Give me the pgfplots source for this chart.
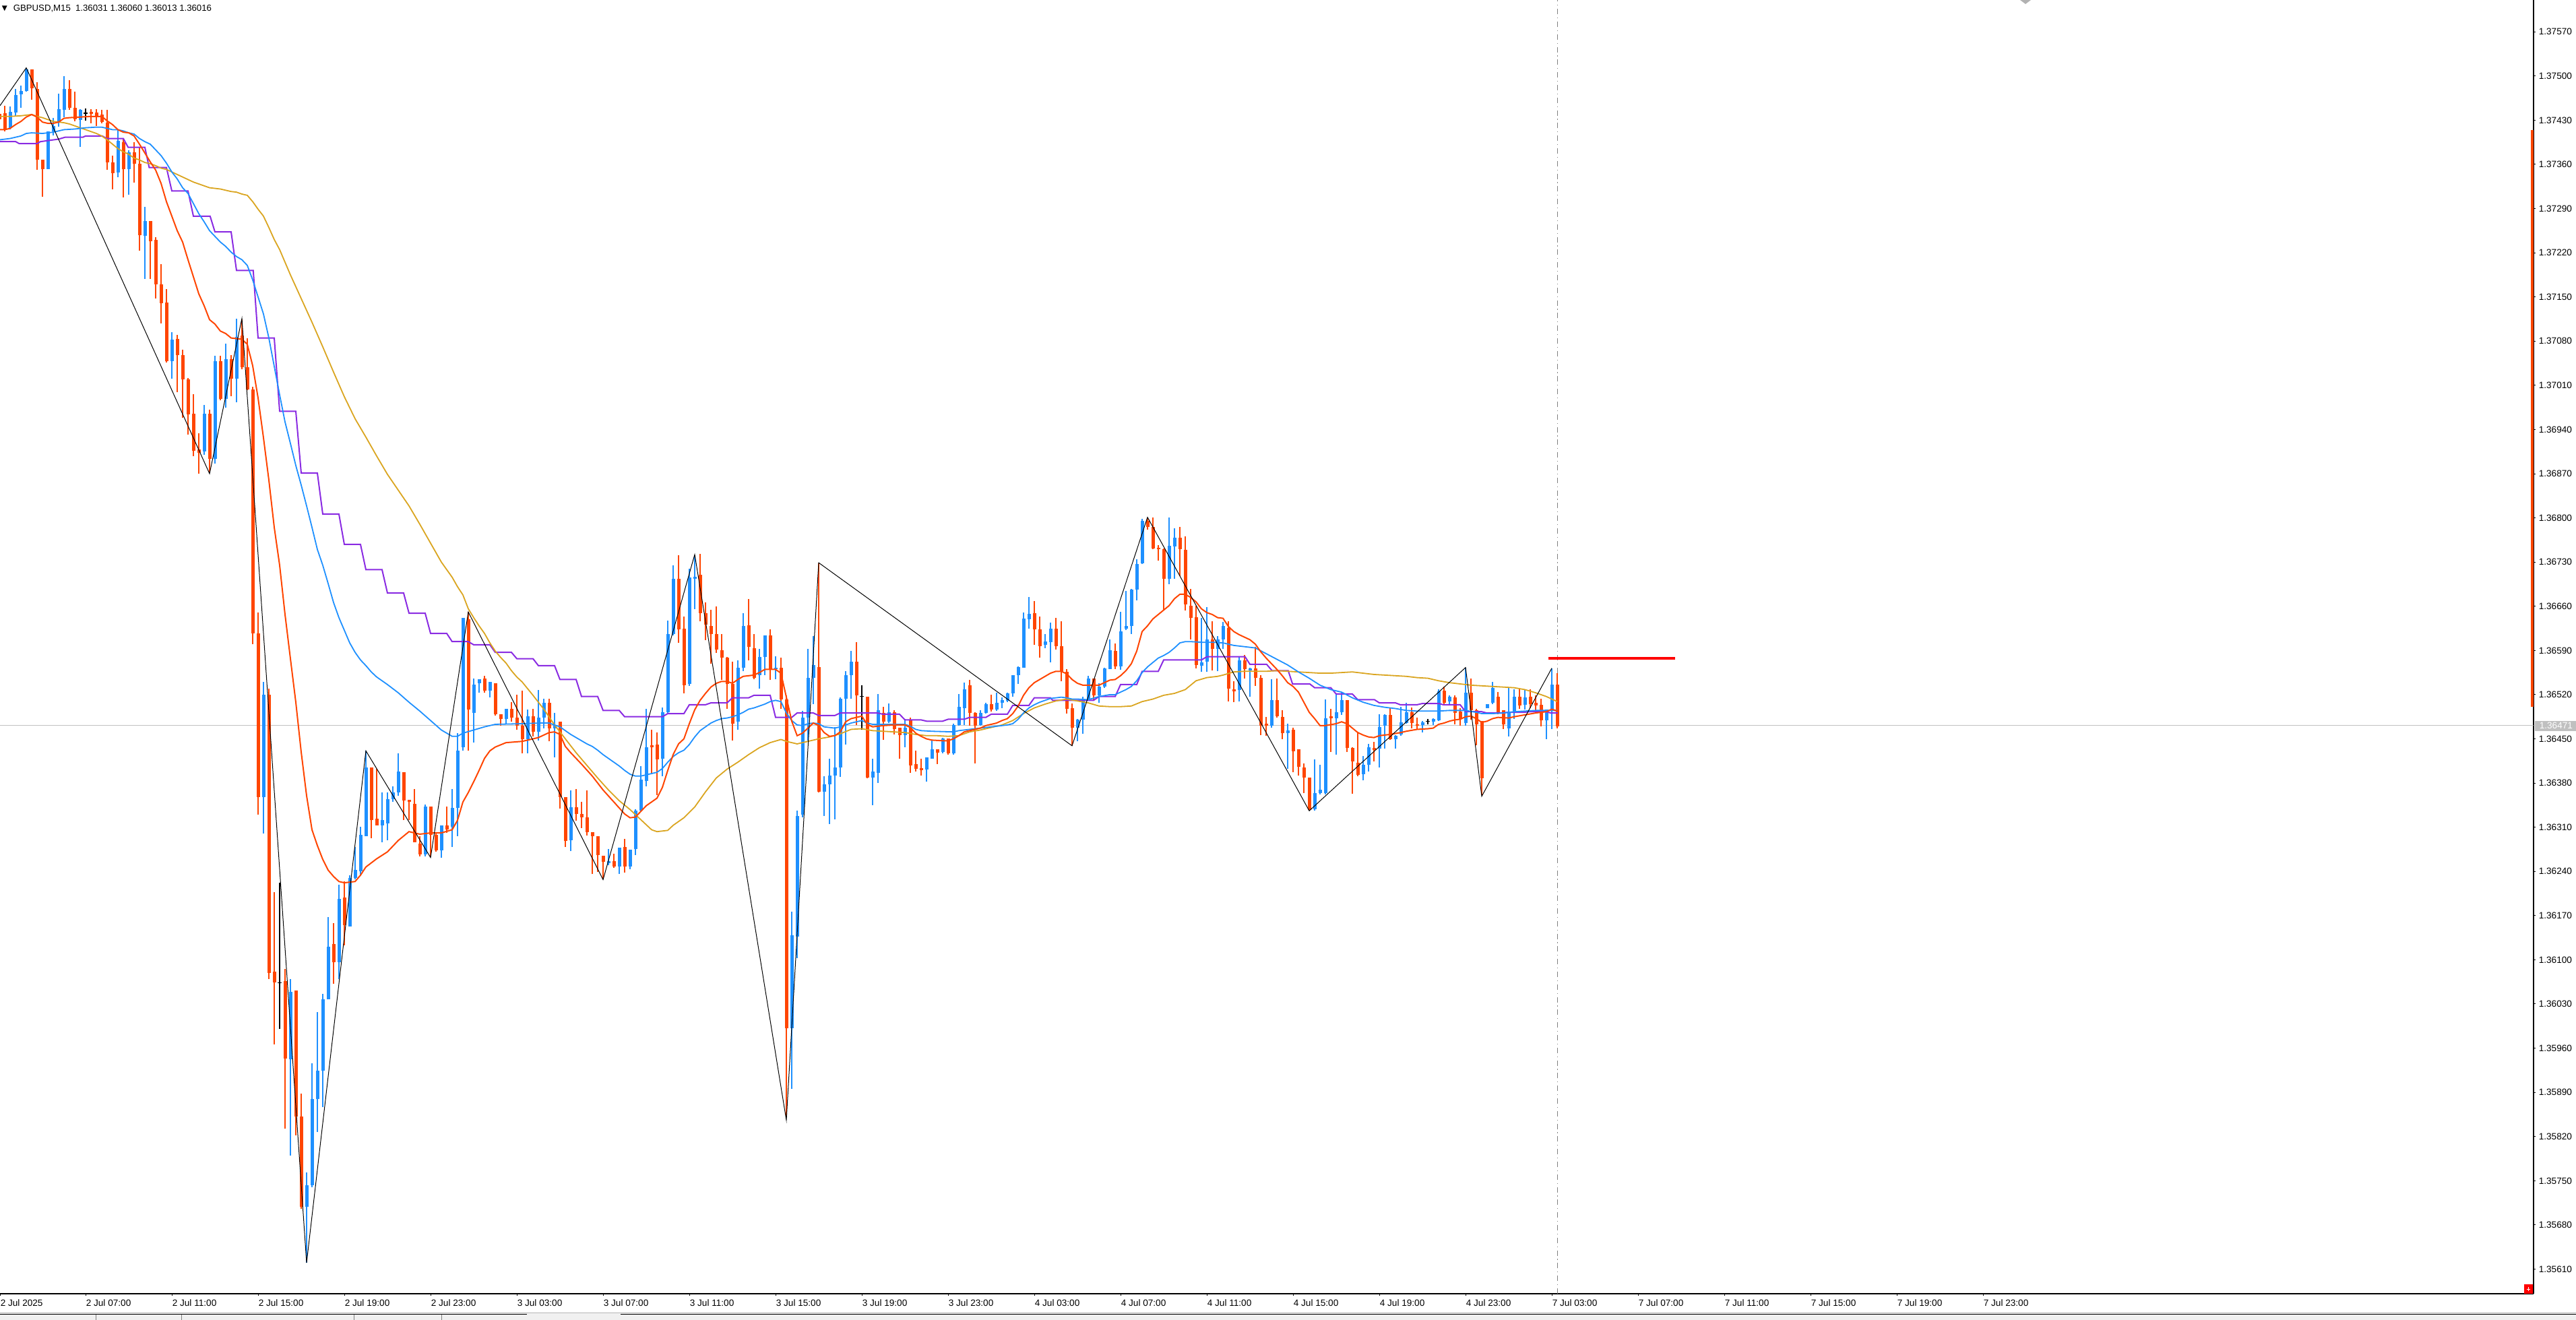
\documentclass[border=0pt]{standalone}
\usepackage{pgfplots}
\pgfplotsset{compat=1.18}
\usepackage{pgfplotstable}
\usepackage{fontspec}
\setmainfont{Liberation Sans}
\newfontfamily\symfont{DejaVu Sans}
\definecolor{bull}{HTML}{1E90FF}
\definecolor{bear}{HTML}{FF4500}
\definecolor{gold}{HTML}{DAA520}
\definecolor{violetma}{HTML}{8A2BE2}
\definecolor{bidgray}{HTML}{C0C0C0}
\definecolor{stripgray}{HTML}{F0F0F0}
\newcommand\tlf{\fontsize{3.4pt}{4pt}\selectfont}

\pgfplotstableread{
i o h l c
2 1.37418 1.37452 1.37415 1.37443
3 1.37442 1.37480 1.37437 1.37470
4 1.37471 1.37485 1.37450 1.37476
5 1.37476 1.37513 1.37475 1.37510
9 1.37353 1.37412 1.37353 1.37412
10 1.37412 1.37434 1.37406 1.37421
11 1.37426 1.37472 1.37420 1.37448
12 1.37446 1.37500 1.37435 1.37480
15 1.37430 1.37447 1.37388 1.37446
22 1.37347 1.37414 1.37340 1.37397
24 1.37352 1.37382 1.37312 1.37379
27 1.37247 1.37293 1.37179 1.37270
32 1.37048 1.37094 1.37020 1.37082
38 1.36905 1.36979 1.36900 1.36965
40 1.36894 1.37057 1.36886 1.37048
42 1.36988 1.37076 1.36975 1.37051
44 1.37020 1.37116 1.36983 1.37087
49 1.36358 1.36540 1.36300 1.36520
54 1.35943 1.36069 1.35790 1.36049
57 1.35709 1.35763 1.35620 1.35743
58 1.35743 1.35936 1.35740 1.35879
59 1.35879 1.36017 1.35827 1.35924
60 1.35924 1.36046 1.35867 1.36037
61 1.36037 1.36168 1.36037 1.36121
63 1.36096 1.36219 1.36069 1.36197
65 1.36153 1.36234 1.36153 1.36230
66 1.36230 1.36279 1.36227 1.36242
67 1.36240 1.36311 1.36234 1.36298
68 1.36296 1.36431 1.36296 1.36405
71 1.36313 1.36365 1.36286 1.36321
72 1.36316 1.36365 1.36289 1.36355
73 1.36355 1.36375 1.36350 1.36365
74 1.36365 1.36427 1.36360 1.36398
79 1.36267 1.36346 1.36264 1.36343
82 1.36273 1.36313 1.36262 1.36313
84 1.36311 1.36370 1.36279 1.36341
85 1.36341 1.36459 1.36296 1.36431
86 1.36437 1.36642 1.36431 1.36642
88 1.36491 1.36546 1.36444 1.36536
89 1.36538 1.36545 1.36523 1.36545
91 1.36526 1.36540 1.36516 1.36540
94 1.36481 1.36498 1.36474 1.36497
98 1.36450 1.36496 1.36427 1.36486
100 1.36461 1.36527 1.36447 1.36484
101 1.36484 1.36513 1.36467 1.36507
103 1.36467 1.36491 1.36421 1.36472
106 1.36289 1.36368 1.36272 1.36342
113 1.36253 1.36275 1.36250 1.36256
115 1.36248 1.36278 1.36236 1.36278
117 1.36248 1.36274 1.36244 1.36274
118 1.36275 1.36338 1.36266 1.36336
119 1.36336 1.36407 1.36335 1.36385
120 1.36383 1.36497 1.36375 1.36437
123 1.36418 1.36500 1.36391 1.36492
124 1.36492 1.36637 1.36490 1.36616
125 1.36616 1.36725 1.36614 1.36703
128 1.36537 1.36720 1.36534 1.36706
129 1.36704 1.36741 1.36655 1.36707
137 1.36477 1.36574 1.36464 1.36563
138 1.36563 1.36649 1.36557 1.36629
141 1.36551 1.36592 1.36530 1.36580
142 1.36580 1.36614 1.36551 1.36614
144 1.36560 1.36581 1.36544 1.36563
147 1.35992 1.36176 1.35896 1.36139
148 1.36137 1.36336 1.36103 1.36328
149 1.36330 1.36494 1.36326 1.36484
150 1.36484 1.36592 1.36447 1.36547
151 1.36547 1.36613 1.36505 1.36567
153 1.36366 1.36391 1.36328 1.36378
154 1.36378 1.36419 1.36315 1.36392
155 1.36392 1.36469 1.36322 1.36405
156 1.36405 1.36516 1.36390 1.36513
157 1.36513 1.36557 1.36441 1.36551
158 1.36551 1.36589 1.36514 1.36572
162 1.36389 1.36419 1.36345 1.36398
163 1.36396 1.36521 1.36380 1.36495
165 1.36477 1.36506 1.36475 1.36492
168 1.36456 1.36482 1.36437 1.36468
172 1.36401 1.36421 1.36382 1.36421
173 1.36419 1.36448 1.36419 1.36434
175 1.36429 1.36452 1.36427 1.36451
177 1.36427 1.36474 1.36425 1.36472
178 1.36472 1.36521 1.36471 1.36501
179 1.36499 1.36539 1.36472 1.36529
182 1.36472 1.36495 1.36471 1.36491
183 1.36491 1.36507 1.36490 1.36505
185 1.36496 1.36523 1.36494 1.36507
186 1.36507 1.36516 1.36499 1.36511
187 1.36510 1.36523 1.36508 1.36522
188 1.36522 1.36551 1.36517 1.36551
189 1.36551 1.36565 1.36537 1.36564
190 1.36563 1.36650 1.36563 1.36641
191 1.36640 1.36675 1.36624 1.36648
194 1.36599 1.36616 1.36594 1.36604
195 1.36603 1.36634 1.36571 1.36624
200 1.36468 1.36482 1.36446 1.36480
201 1.36480 1.36517 1.36458 1.36510
202 1.36513 1.36550 1.36510 1.36546
204 1.36519 1.36538 1.36507 1.36533
205 1.36533 1.36563 1.36531 1.36562
206 1.36561 1.36607 1.36560 1.36590
208 1.36565 1.36651 1.36559 1.36620
209 1.36624 1.36684 1.36622 1.36629
210 1.36629 1.36688 1.36616 1.36686
211 1.36686 1.36734 1.36669 1.36727
212 1.36728 1.36798 1.36727 1.36795
217 1.36704 1.36801 1.36695 1.36756
218 1.36755 1.36784 1.36704 1.36769
223 1.36566 1.36642 1.36556 1.36571
224 1.36572 1.36659 1.36556 1.36607
226 1.36592 1.36613 1.36557 1.36607
227 1.36607 1.36635 1.36592 1.36629
230 1.36527 1.36580 1.36509 1.36574
232 1.36558 1.36563 1.36517 1.36562
236 1.36471 1.36544 1.36468 1.36511
239 1.36459 1.36474 1.36403 1.36463
244 1.36339 1.36418 1.36336 1.36364
245 1.36364 1.36409 1.36362 1.36369
246 1.36364 1.36512 1.36362 1.36483
248 1.36483 1.36521 1.36425 1.36492
249 1.36492 1.36524 1.36488 1.36511
253 1.36394 1.36423 1.36384 1.36409
254 1.36409 1.36442 1.36398 1.36437
256 1.36435 1.36489 1.36405 1.36469
257 1.36471 1.36489 1.36435 1.36488
259 1.36449 1.36456 1.36435 1.36455
260 1.36457 1.36501 1.36455 1.36476
261 1.36475 1.36507 1.36474 1.36492
264 1.36472 1.36478 1.36460 1.36476
266 1.36477 1.36483 1.36472 1.36481
267 1.36479 1.36528 1.36478 1.36525
269 1.36509 1.36519 1.36505 1.36517
272 1.36475 1.36563 1.36471 1.36523
276 1.36499 1.36505 1.36499 1.36505
277 1.36507 1.36540 1.36505 1.36531
280 1.36467 1.36531 1.36454 1.36491
281 1.36491 1.36528 1.36482 1.36517
283 1.36504 1.36527 1.36496 1.36516
287 1.36479 1.36496 1.36450 1.36496
288 1.36496 1.36562 1.36466 1.36536
}\bulltab

\pgfplotstableread{
i o h l c
0 1.37440 1.37446 1.37428 1.37432
1 1.37441 1.37453 1.37412 1.37415
6 1.37510 1.37510 1.37462 1.37481
7 1.37480 1.37490 1.37351 1.37367
8 1.37367 1.37367 1.37309 1.37352
13 1.37480 1.37493 1.37446 1.37450
14 1.37450 1.37475 1.37428 1.37431
17 1.37443 1.37447 1.37425 1.37440
18 1.37442 1.37448 1.37421 1.37437
19 1.37439 1.37446 1.37425 1.37427
20 1.37426 1.37446 1.37351 1.37363
21 1.37363 1.37374 1.37320 1.37346
23 1.37395 1.37401 1.37308 1.37352
25 1.37379 1.37395 1.37331 1.37361
26 1.37361 1.37387 1.37223 1.37248
28 1.37270 1.37270 1.37179 1.37238
29 1.37240 1.37245 1.37148 1.37170
30 1.37170 1.37202 1.37108 1.37140
31 1.37141 1.37162 1.37046 1.37048
33 1.37083 1.37090 1.36999 1.37058
34 1.37058 1.37066 1.36959 1.37019
35 1.37019 1.37022 1.36932 1.36964
36 1.36965 1.36996 1.36898 1.36906
37 1.36908 1.36934 1.36870 1.36903
39 1.36965 1.36971 1.36871 1.36894
41 1.37048 1.37057 1.36986 1.36988
43 1.37051 1.37058 1.36993 1.37020
45 1.37089 1.37114 1.37036 1.37039
46 1.37039 1.37085 1.37002 1.37003
47 1.37003 1.37008 1.36600 1.36617
48 1.36617 1.36650 1.36330 1.36358
50 1.36520 1.36530 1.36070 1.36079
51 1.36081 1.36207 1.35966 1.36064
53 1.36066 1.36086 1.35832 1.35944
55 1.36051 1.36051 1.35822 1.35852
56 1.35852 1.35888 1.35705 1.35709
62 1.36125 1.36158 1.36062 1.36096
64 1.36199 1.36224 1.36123 1.36155
69 1.36405 1.36405 1.36293 1.36321
70 1.36324 1.36402 1.36313 1.36313
75 1.36397 1.36397 1.36321 1.36352
76 1.36353 1.36353 1.36321 1.36350
77 1.36347 1.36370 1.36286 1.36286
78 1.36284 1.36296 1.36264 1.36267
80 1.36343 1.36343 1.36264 1.36298
81 1.36298 1.36301 1.36271 1.36273
83 1.36313 1.36343 1.36301 1.36306
87 1.36639 1.36651 1.36431 1.36496
90 1.36546 1.36550 1.36523 1.36526
92 1.36538 1.36538 1.36487 1.36489
93 1.36489 1.36489 1.36471 1.36481
95 1.36497 1.36508 1.36477 1.36484
96 1.36484 1.36520 1.36464 1.36471
97 1.36471 1.36526 1.36427 1.36449
99 1.36486 1.36497 1.36454 1.36461
102 1.36507 1.36513 1.36446 1.36467
104 1.36477 1.36477 1.36340 1.36358
105 1.36358 1.36358 1.36279 1.36288
107 1.36342 1.36371 1.36320 1.36331
108 1.36331 1.36350 1.36309 1.36326
109 1.36326 1.36368 1.36297 1.36302
110 1.36302 1.36302 1.36236 1.36296
111 1.36296 1.36296 1.36239 1.36266
112 1.36265 1.36265 1.36227 1.36255
114 1.36256 1.36268 1.36246 1.36248
116 1.36279 1.36291 1.36238 1.36248
121 1.36440 1.36464 1.36394 1.36437
122 1.36441 1.36460 1.36361 1.36417
126 1.36703 1.36741 1.36602 1.36623
127 1.36624 1.36644 1.36522 1.36535
130 1.36710 1.36743 1.36636 1.36649
131 1.36649 1.36666 1.36606 1.36631
132 1.36629 1.36654 1.36569 1.36616
133 1.36616 1.36660 1.36586 1.36591
134 1.36590 1.36616 1.36543 1.36579
135 1.36579 1.36580 1.36497 1.36537
136 1.36537 1.36572 1.36447 1.36474
139 1.36630 1.36671 1.36574 1.36596
140 1.36594 1.36616 1.36545 1.36547
143 1.36614 1.36623 1.36543 1.36560
145 1.36563 1.36579 1.36497 1.36512
146 1.36512 1.36519 1.35853 1.35992
152 1.36564 1.36728 1.36365 1.36366
159 1.36572 1.36603 1.36472 1.36519
161 1.36517 1.36517 1.36388 1.36389
164 1.36491 1.36501 1.36448 1.36477
166 1.36492 1.36495 1.36457 1.36466
167 1.36468 1.36468 1.36418 1.36456
169 1.36479 1.36484 1.36396 1.36408
170 1.36410 1.36431 1.36398 1.36402
171 1.36404 1.36419 1.36392 1.36400
174 1.36433 1.36433 1.36410 1.36428
176 1.36451 1.36451 1.36425 1.36427
180 1.36535 1.36543 1.36471 1.36491
181 1.36491 1.36492 1.36411 1.36471
184 1.36505 1.36520 1.36493 1.36496
192 1.36649 1.36668 1.36599 1.36623
193 1.36623 1.36644 1.36579 1.36597
196 1.36624 1.36642 1.36591 1.36597
197 1.36597 1.36636 1.36541 1.36557
198 1.36556 1.36560 1.36490 1.36497
199 1.36499 1.36506 1.36439 1.36468
203 1.36546 1.36546 1.36511 1.36519
207 1.36589 1.36601 1.36561 1.36565
213 1.36795 1.36800 1.36781 1.36786
214 1.36786 1.36801 1.36750 1.36752
215 1.36753 1.36757 1.36732 1.36750
216 1.36751 1.36752 1.36654 1.36704
219 1.36769 1.36786 1.36708 1.36751
220 1.36749 1.36771 1.36653 1.36663
221 1.36661 1.36688 1.36607 1.36642
222 1.36643 1.36661 1.36562 1.36567
225 1.36607 1.36636 1.36558 1.36593
228 1.36626 1.36636 1.36509 1.36530
229 1.36529 1.36541 1.36508 1.36525
231 1.36574 1.36583 1.36546 1.36561
233 1.36562 1.36596 1.36534 1.36547
234 1.36547 1.36551 1.36456 1.36471
235 1.36474 1.36485 1.36455 1.36471
237 1.36511 1.36546 1.36484 1.36486
238 1.36485 1.36495 1.36450 1.36459
240 1.36464 1.36468 1.36397 1.36430
241 1.36434 1.36434 1.36392 1.36406
242 1.36405 1.36411 1.36364 1.36389
243 1.36389 1.36389 1.36336 1.36337
247 1.36486 1.36498 1.36429 1.36483
250 1.36511 1.36511 1.36429 1.36436
251 1.36436 1.36437 1.36363 1.36414
252 1.36412 1.36460 1.36391 1.36393
255 1.36436 1.36445 1.36414 1.36432
258 1.36488 1.36500 1.36448 1.36449
262 1.36492 1.36500 1.36467 1.36475
263 1.36473 1.36484 1.36464 1.36471
268 1.36526 1.36533 1.36505 1.36507
270 1.36516 1.36519 1.36473 1.36491
271 1.36493 1.36499 1.36471 1.36482
273 1.36523 1.36546 1.36480 1.36495
274 1.36495 1.36498 1.36440 1.36473
275 1.36478 1.36478 1.36361 1.36388
278 1.36517 1.36524 1.36489 1.36492
279 1.36495 1.36495 1.36466 1.36473
282 1.36517 1.36531 1.36497 1.36503
284 1.36517 1.36528 1.36499 1.36505
285 1.36507 1.36519 1.36495 1.36503
286 1.36504 1.36513 1.36470 1.36479
289 1.36536 1.36554 1.36467 1.36470
}\beartab

\pgfplotstableread{
i p h l
16 1.37441 1.37449 1.37429
52 1.36064 1.36222 1.35990
160 1.36517 1.36535 1.36464
265 1.36478 1.36482 1.36473
}\dojitab

\begin{document}
\begin{tikzpicture}
\useasboundingbox (0,0) rectangle (955.75pt,-489.75pt);
\fill[stripgray] (0,-486.75pt) rectangle (955.75pt,-489.75pt);
\draw[bidgray, line width=0.25pt] (0,-487pt) -- (955.75pt,-487pt);
\draw[black, line width=0.3pt] (0,-487.6pt) -- (195.5pt,-487.6pt);
\draw[black, line width=0.3pt] (230.25pt,-487.6pt) -- (955.75pt,-487.6pt);
\foreach \xx in {35.5,67.25,131.25,163.75}{\draw[gray, line width=0.25pt] (\xx pt,-487.75pt) -- (\xx pt,-489.75pt);}
\begin{axis}[
  at={(0pt,0pt)}, anchor=north west,
  width=940pt, height=480pt, scale only axis,
  xmin=0.125, xmax=470.125, ymin=1.355710, ymax=1.376204,
  enlargelimits=false,
  axis x line*=bottom, axis y line*=right,
  axis line style={-, line width=0.45pt, black},
  tick align=outside, major tick length=0.75pt,
  tick style={black, line width=0.25pt},
  xtick={0.125,16,32,48,64,80,96,112,128,144,160,176,192,208,224,240,256,272,288,304,320,336,352,368},
  xticklabels={2 Jul 2025,2 Jul 07:00,2 Jul 11:00,2 Jul 15:00,2 Jul 19:00,2 Jul 23:00,3 Jul 03:00,3 Jul 07:00,3 Jul 11:00,3 Jul 15:00,3 Jul 19:00,3 Jul 23:00,4 Jul 03:00,4 Jul 07:00,4 Jul 11:00,4 Jul 15:00,4 Jul 19:00,4 Jul 23:00,7 Jul 03:00,7 Jul 07:00,7 Jul 11:00,7 Jul 15:00,7 Jul 19:00,7 Jul 23:00},
  ytick={1.35610,1.35680,1.35750,1.35820,1.35890,1.35960,1.36030,1.36100,1.36170,1.36240,1.36310,1.36380,1.36450,1.36520,1.36590,1.36660,1.36730,1.36800,1.36870,1.36940,1.37010,1.37080,1.37150,1.37220,1.37290,1.37360,1.37430,1.37500,1.37570},
  yticklabels={1.35610,1.35680,1.35750,1.35820,1.35890,1.35960,1.36030,1.36100,1.36170,1.36240,1.36310,1.36380,1.36450,1.36520,1.36590,1.36660,1.36730,1.36800,1.36870,1.36940,1.37010,1.37080,1.37150,1.37220,1.37290,1.37360,1.37430,1.37500,1.37570},
  xticklabel style={anchor=north west, inner sep=0pt, font=\tlf, yshift=-1.2pt},
  yticklabel style={anchor=west, inner sep=0pt, font=\tlf, xshift=1.0pt},
  clip=true,
]
\addplot[bidgray, line width=0.25pt, forget plot] coordinates {(0.125,1.36471) (470.125,1.36471)};
\addplot[gray, line width=0.25pt, dash pattern=on 2pt off 1.2pt on 0.3pt off 1.2pt, forget plot] coordinates {(289,1.35571) (289,1.37620)};
\addplot[draw=none, mark=none, forget plot, error bars/.cd, y dir=plus, y explicit, error mark=none, error bar style={draw=bull, solid, line width=0.3pt}]
  table[x=i, y=l, y error plus expr=\thisrow{h}-\thisrow{l}] {\bulltab};
\addplot[draw=none, mark=none, forget plot, error bars/.cd, y dir=plus, y explicit, error mark=none, error bar style={draw=bear, solid, line width=0.3pt}]
  table[x=i, y=l, y error plus expr=\thisrow{h}-\thisrow{l}] {\beartab};
\addplot[draw=none, mark=none, forget plot, error bars/.cd, y dir=plus, y explicit, error mark=none, error bar style={draw=black, solid, line width=0.3pt}]
  table[x=i, y=l, y error plus expr=\thisrow{h}-\thisrow{l}] {\dojitab};
\addplot[draw=none, mark=none, forget plot, error bars/.cd, y dir=plus, y explicit, error mark=none, error bar style={draw=bull, solid, line width=1.25pt}]
  table[x=i, y=o, y error plus expr=\thisrow{c}-\thisrow{o}] {\bulltab};
\addplot[draw=none, mark=none, forget plot, error bars/.cd, y dir=plus, y explicit, error mark=none, error bar style={draw=bear, solid, line width=1.25pt}]
  table[x=i, y=c, y error plus expr=\thisrow{o}-\thisrow{c}] {\beartab};
\addplot[only marks, mark=-, mark size=0.65pt, black, mark options={line width=0.3pt}, forget plot]
  table[x=i, y=p] {\dojitab};
\addplot[violetma, line width=0.5pt, forget plot] coordinates {
(0.125,1.37396) (3.04,1.37396) (3.67,1.37393) (7.04,1.37393) (7.6,1.37396) (11.0,1.37400) (12.2,1.37403) (15.5,1.37403) (16.0,1.37405) (19.1,1.37405) (19.9,1.37401) (23.0,1.37401) (23.9,1.37387) (27.0,1.37387) (27.8,1.37355) (31.0,1.37355) (32.0,1.37318) (35.0,1.37318) (36.0,1.37278) (39.1,1.37278) (40.0,1.37253) (43.0,1.37253) (44.0,1.37192) (47.1,1.37192) (48.0,1.37085) (51.0,1.37085) (52.0,1.36969) (55.0,1.36969) (56.0,1.36871) (59.0,1.36871) (60.0,1.36806) (63.0,1.36806) (64.0,1.36758) (67.0,1.36758) (68.0,1.36718) (71.0,1.36718) (72.0,1.36681) (75.0,1.36681) (76.0,1.36649) (79.0,1.36649) (80.0,1.36617) (83.0,1.36617) (84.0,1.36604) (87.0,1.36604) (88.0,1.36599) (91.0,1.36599) (92.0,1.36587) (95.0,1.36587) (96.0,1.36577) (99.0,1.36577) (100.0,1.36566) (103.0,1.36566) (104.0,1.36544) (107.0,1.36544) (108.0,1.36517) (111.0,1.36517) (112.0,1.36495) (115.0,1.36495) (116.0,1.36485) (123.0,1.36485) (124.0,1.36490) (127.0,1.36490) (128.0,1.36504) (131.0,1.36504) (132.0,1.36507) (135.0,1.36507) (136.0,1.36515) (139.0,1.36515) (140.0,1.36519) (143.0,1.36519) (144.0,1.36484) (147.0,1.36484) (148.0,1.36491) (151.0,1.36491) (152.0,1.36487) (155.0,1.36487) (156.0,1.36491) (162.9,1.36491) (163.9,1.36489) (167.0,1.36489) (168.0,1.36480) (171.0,1.36480) (172.0,1.36478) (175.0,1.36478) (176.0,1.36481) (179.0,1.36481) (180.0,1.36484) (183.0,1.36484) (184.0,1.36489) (187.0,1.36489) (188.0,1.36503) (191.0,1.36503) (192.0,1.36515) (195.0,1.36515) (195.4,1.36511) (203.0,1.36511) (204.0,1.36517) (207.0,1.36517) (208.0,1.36536) (211.0,1.36536) (212.0,1.36557) (215.0,1.36557) (216.0,1.36575) (223.0,1.36575) (224.0,1.36580) (231.1,1.36580) (232.0,1.36568) (235.1,1.36568) (236.1,1.36558) (239.1,1.36558) (239.9,1.36537) (243.1,1.36537) (244.0,1.36531) (247.0,1.36531) (248.0,1.36521) (251.0,1.36521) (252.0,1.36512) (255.1,1.36512) (256.0,1.36507) (259.0,1.36507) (259.9,1.36504) (263.0,1.36504) (264.0,1.36506) (267.0,1.36506) (267.9,1.36504) (271.0,1.36504) (272.0,1.36493) (275.0,1.36493) (275.9,1.36491) (278.8,1.36491) (279.9,1.36492) (282.8,1.36492) (283.9,1.36493) (286.9,1.36493) (287.8,1.36491) (289.1,1.36491)};
\addplot[gold, line width=0.45pt, forget plot] coordinates {
(0.125,1.37436) (2,1.37436) (4,1.37437) (5,1.37438) (6,1.37439) (7,1.37436) (8,1.37434) (9,1.37431) (10,1.37428) (11,1.37427) (12,1.37426) (13,1.37424) (14,1.37421) (15,1.37418) (16,1.37415) (17,1.37412) (18,1.37409) (19,1.37405) (20,1.37399) (21,1.37392) (22,1.37385) (23,1.37380) (24,1.37376) (25,1.37370) (26,1.37367) (27,1.37363) (28,1.37361) (29,1.37358) (30,1.37354) (31,1.37352) (32,1.37348) (33,1.37344) (34,1.37340) (35,1.37336) (36,1.37332) (37,1.37329) (38,1.37326) (39,1.37323) (40,1.37322) (41,1.37321) (42,1.37319) (43,1.37317) (44,1.37316) (45,1.37313) (46,1.37311) (47,1.37301) (48,1.37289) (49,1.37278) (50,1.37260) (51,1.37241) (52,1.37225) (54,1.37185) (56.4,1.37140) (58,1.37110) (60,1.37071) (62,1.37031) (64,1.36992) (66,1.36957) (68,1.36928) (70,1.36898) (72,1.36869) (74,1.36844) (76,1.36819) (78,1.36790) (80,1.36760) (82,1.36730) (84,1.36706) (85,1.36691) (86,1.36678) (87,1.36656) (88,1.36642) (89,1.36629) (90,1.36617) (91,1.36602) (92,1.36589) (93,1.36579) (94,1.36570) (95,1.36558) (96,1.36548) (97,1.36540) (99,1.36519) (101,1.36497) (103,1.36472) (105,1.36450) (107,1.36428) (109,1.36408) (111,1.36388) (113,1.36369) (115,1.36352) (117,1.36338) (119,1.36322) (121,1.36306) (122,1.36303) (124,1.36305) (125,1.36313) (127,1.36325) (129,1.36342) (131,1.36366) (133,1.36388) (135,1.36402) (137,1.36413) (139,1.36425) (141,1.36436) (143,1.36444) (145,1.36449) (146,1.36446) (148,1.36442) (150,1.36446) (152,1.36450) (154,1.36453) (156,1.36458) (158,1.36465) (160,1.36466) (162,1.36463) (164,1.36462) (166,1.36461) (168,1.36460) (170,1.36457) (172,1.36455) (174,1.36455) (176,1.36454) (178,1.36455) (180,1.36461) (182,1.36464) (184,1.36468) (186,1.36472) (188,1.36479) (190,1.36490) (192,1.36499) (194,1.36505) (196,1.36510) (198,1.36513) (200,1.36510) (202,1.36507) (204,1.36502) (206,1.36501) (208,1.36501) (210,1.36502) (212,1.36509) (214,1.36513) (216,1.36519) (218,1.36522) (220,1.36528) (222,1.36542) (224,1.36547) (226,1.36549) (227,1.36551) (229,1.36556) (231,1.36557) (235,1.36557) (237,1.36558) (241,1.36556) (243,1.36555) (245,1.36554) (247,1.36554) (249,1.36555) (251,1.36556) (253,1.36554) (255,1.36552) (257,1.36551) (259,1.36550) (261,1.36549) (263,1.36547) (265,1.36546) (267,1.36542) (269,1.36539) (271,1.36537) (273,1.36535) (275,1.36534) (277,1.36533) (279,1.36532) (281,1.36531) (283,1.36528) (285,1.36523) (287,1.36517) (289,1.36509)};
\addplot[bull, line width=0.45pt, forget plot] coordinates {
(0.125,1.37399) (2,1.37401) (4,1.37405) (5,1.37409) (6,1.37410) (8,1.37409) (10,1.37411) (11,1.37413) (12,1.37415) (14,1.37416) (16,1.37418) (18,1.37419) (19,1.37419) (20,1.37417) (21,1.37415) (22,1.37415) (23,1.37413) (24,1.37410) (25,1.37408) (26,1.37401) (27,1.37396) (28,1.37392) (29,1.37383) (30,1.37374) (31,1.37362) (32,1.37348) (33,1.37337) (34,1.37323) (35,1.37314) (36,1.37298) (37,1.37282) (38,1.37269) (39,1.37255) (40,1.37246) (41,1.37237) (42,1.37230) (43,1.37221) (44,1.37214) (45,1.37209) (46,1.37200) (47,1.37177) (48,1.37150) (49,1.37123) (50,1.37085) (51,1.37040) (52,1.36995) (53,1.36952) (54,1.36918) (55,1.36883) (56,1.36852) (57,1.36819) (58,1.36785) (59,1.36750) (60,1.36725) (61,1.36696) (62,1.36666) (63,1.36642) (64,1.36622) (65,1.36602) (66,1.36587) (67,1.36575) (68,1.36566) (69,1.36556) (70,1.36548) (72,1.36536) (74,1.36523) (76,1.36508) (78,1.36494) (80,1.36479) (82,1.36464) (84,1.36454) (85,1.36454) (86,1.36459) (88,1.36464) (90,1.36469) (92,1.36473) (97,1.36474) (100,1.36475) (102,1.36475) (103,1.36472) (104,1.36469) (105,1.36463) (106,1.36457) (107,1.36452) (108,1.36447) (109,1.36442) (110,1.36438) (111,1.36432) (112,1.36425) (113,1.36419) (114,1.36413) (115,1.36407) (116,1.36400) (117,1.36394) (118,1.36391) (119,1.36391) (120,1.36393) (121,1.36395) (122,1.36397) (123,1.36403) (124,1.36413) (125,1.36422) (126,1.36428) (127,1.36432) (128,1.36441) (129,1.36453) (130,1.36463) (131,1.36469) (132,1.36475) (133,1.36479) (134,1.36482) (135,1.36483) (136,1.36485) (137,1.36488) (138,1.36492) (139,1.36497) (140,1.36499) (141,1.36502) (142,1.36505) (143,1.36509) (144,1.36511) (145,1.36509) (146,1.36491) (147,1.36479) (148,1.36472) (149,1.36471) (150,1.36474) (151,1.36475) (152,1.36474) (153,1.36469) (155,1.36467) (156,1.36469) (157,1.36472) (158,1.36475) (159,1.36477) (160,1.36479) (161,1.36475) (162,1.36473) (168,1.36473) (169,1.36470) (170,1.36465) (171,1.36463) (173,1.36462) (177,1.36461) (178,1.36463) (179,1.36464) (181,1.36466) (183,1.36468) (185,1.36470) (187,1.36472) (188,1.36474) (189,1.36481) (190,1.36491) (191,1.36499) (192,1.36504) (193,1.36508) (194,1.36511) (195,1.36514) (196,1.36515) (197,1.36516) (198,1.36515) (199,1.36513) (200,1.36513) (202,1.36512) (204,1.36517) (206,1.36520) (207,1.36520) (208,1.36524) (209,1.36528) (210,1.36533) (211,1.36542) (212,1.36555) (213,1.36564) (214,1.36571) (215,1.36578) (216,1.36582) (217,1.36587) (218,1.36594) (219,1.36602) (220,1.36604) (221,1.36604) (223,1.36603) (225,1.36603) (227,1.36602) (228,1.36600) (229,1.36598) (231,1.36596) (233,1.36594) (235,1.36585) (237,1.36576) (239,1.36567) (241,1.36556) (243,1.36546) (245,1.36535) (247,1.36528) (249,1.36524) (251,1.36515) (253,1.36508) (255,1.36503) (257,1.36500) (259,1.36498) (261,1.36495) (263,1.36494) (267,1.36494) (269,1.36495) (272,1.36495) (274,1.36492) (275,1.36490) (277,1.36490) (279,1.36491) (281,1.36493) (283,1.36494) (285,1.36495) (289,1.36495)};
\addplot[bear, line width=0.5pt, forget plot] coordinates {
(0.125,1.37415) (1,1.37415) (2,1.37417) (3,1.37423) (4,1.37428) (5,1.37435) (6,1.37439) (7,1.37435) (8,1.37427) (9,1.37425) (10,1.37425) (11,1.37427) (12,1.37433) (13,1.37434) (15,1.37435) (17,1.37436) (19,1.37436) (20,1.37429) (21,1.37423) (22,1.37415) (23,1.37411) (24,1.37410) (25,1.37405) (26,1.37392) (27,1.37378) (28,1.37364) (29,1.37351) (30,1.37330) (31,1.37301) (32,1.37278) (33,1.37255) (34,1.37237) (35,1.37209) (36,1.37182) (37,1.37155) (38,1.37136) (39,1.37114) (40,1.37107) (41,1.37096) (42,1.37092) (43,1.37085) (44,1.37084) (45,1.37083) (46,1.37075) (47,1.37041) (48,1.36990) (49,1.36927) (50,1.36860) (51,1.36785) (52,1.36725) (53,1.36647) (54,1.36577) (55,1.36508) (56,1.36429) (57,1.36360) (58,1.36306) (59,1.36281) (60,1.36259) (61,1.36242) (62,1.36232) (63,1.36224) (64,1.36222) (66,1.36224) (67,1.36234) (68,1.36247) (70,1.36260) (72,1.36271) (74,1.36289) (76,1.36303) (78,1.36299) (80,1.36301) (82,1.36301) (84,1.36306) (85,1.36321) (86,1.36350) (87,1.36365) (88,1.36382) (89,1.36400) (90,1.36419) (91,1.36431) (92,1.36437) (94,1.36444) (97,1.36446) (98,1.36448) (100,1.36452) (102,1.36460) (103,1.36461) (104,1.36457) (105,1.36438) (106,1.36428) (108,1.36410) (110,1.36391) (112,1.36369) (114,1.36350) (116,1.36331) (117,1.36325) (118,1.36326) (119,1.36335) (120,1.36344) (122,1.36356) (123,1.36373) (124,1.36400) (125,1.36425) (126,1.36442) (127,1.36450) (128,1.36474) (129,1.36496) (130,1.36511) (131,1.36522) (132,1.36532) (133,1.36538) (134,1.36541) (135,1.36541) (136,1.36538) (137,1.36544) (138,1.36549) (140,1.36551) (141,1.36555) (142,1.36560) (144,1.36560) (145,1.36554) (146,1.36516) (147,1.36478) (148,1.36455) (149,1.36459) (150,1.36467) (151,1.36475) (152,1.36471) (153,1.36460) (154,1.36454) (155,1.36455) (156,1.36461) (157,1.36477) (158,1.36482) (159,1.36484) (160,1.36486) (161,1.36473) (162,1.36469) (164,1.36471) (166,1.36472) (168,1.36472) (169,1.36468) (170,1.36459) (171,1.36454) (172,1.36450) (173,1.36448) (175,1.36447) (176,1.36447) (177,1.36450) (178,1.36455) (179,1.36461) (180,1.36463) (182,1.36467) (183,1.36471) (184,1.36473) (185,1.36475) (186,1.36479) (187,1.36482) (188,1.36490) (189,1.36502) (190,1.36519) (191,1.36531) (192,1.36539) (193,1.36544) (194,1.36549) (195,1.36554) (196,1.36557) (197,1.36557) (198,1.36553) (199,1.36544) (200,1.36538) (201,1.36535) (204,1.36535) (205,1.36539) (206,1.36543) (207,1.36544) (208,1.36550) (209,1.36558) (210,1.36569) (211,1.36589) (212,1.36620) (213,1.36629) (214,1.36640) (215,1.36647) (216,1.36654) (217,1.36661) (218,1.36672) (219,1.36679) (220,1.36679) (221,1.36674) (222,1.36667) (223,1.36656) (224,1.36650) (225,1.36647) (226,1.36642) (227,1.36641) (228,1.36628) (229,1.36620) (230,1.36615) (231,1.36611) (232,1.36607) (233,1.36600) (234,1.36588) (235,1.36578) (236,1.36569) (237,1.36560) (238,1.36550) (239,1.36539) (240,1.36533) (241,1.36524) (242,1.36508) (243,1.36492) (244,1.36482) (245,1.36471) (246,1.36471) (248,1.36474) (249,1.36477) (250,1.36474) (251,1.36467) (252,1.36460) (253,1.36456) (254,1.36453) (255,1.36452) (256,1.36455) (258,1.36457) (260,1.36460) (261,1.36462) (263,1.36465) (265,1.36466) (266,1.36467) (267,1.36473) (268,1.36475) (269,1.36478) (270,1.36480) (271,1.36481) (272,1.36485) (273,1.36486) (274,1.36482) (275,1.36476) (276,1.36478) (277,1.36482) (278,1.36484) (280,1.36483) (281,1.36485) (283,1.36488) (285,1.36491) (286,1.36492) (287,1.36493) (288,1.36497) (289,1.36494)};
\addplot[black, line width=0.25pt, forget plot] coordinates {
(0.125,1.37453) (5,1.37513) (39,1.36870) (45,1.37116) (57,1.35620) (68,1.36431) (80,1.36262) (87,1.36651) (112,1.36227) (129,1.36742) (146,1.35846) (152,1.36729) (199,1.36439) (213,1.36801) (243,1.36336) (272,1.36563) (275,1.36359) (288,1.36562)};
\addplot[red, line width=1pt, forget plot] coordinates {(287.4,1.36578) (310.9,1.36578)};
\addplot[bear, line width=1pt, forget plot] coordinates {(469.9,1.37414) (469.9,1.36501)};
\end{axis}
\node[anchor=base west, inner sep=0pt, font={\fontsize{2.6pt}{3pt}\symfont}] at (0.5pt,-3.9pt) {▼};
\node[anchor=base west, inner sep=0pt, font={\fontsize{3.3pt}{4pt}\selectfont}] at (4.75pt,-4.25pt) {GBPUSD,M15\hspace{0.55em}1.36031 1.36060 1.36013 1.36016};
\fill[bidgray] (940.5pt,-267.4pt) rectangle (955.75pt,-271.25pt);
\node[anchor=west, inner sep=0pt, text=white, font=\tlf] at (942pt,-269.3pt) {1.36471};
\fill[red] (936.5pt,-476.5pt) rectangle (939.75pt,-480pt);
\draw[white, line width=0.25pt] (937.4pt,-478.25pt) -- (938.85pt,-478.25pt) (938.125pt,-477.5pt) -- (938.125pt,-479pt);
\fill[gray!60] (749.5pt,0pt) -- (753.5pt,0pt) -- (751.5pt,-1.5pt) -- cycle;
\end{tikzpicture}
\end{document}
